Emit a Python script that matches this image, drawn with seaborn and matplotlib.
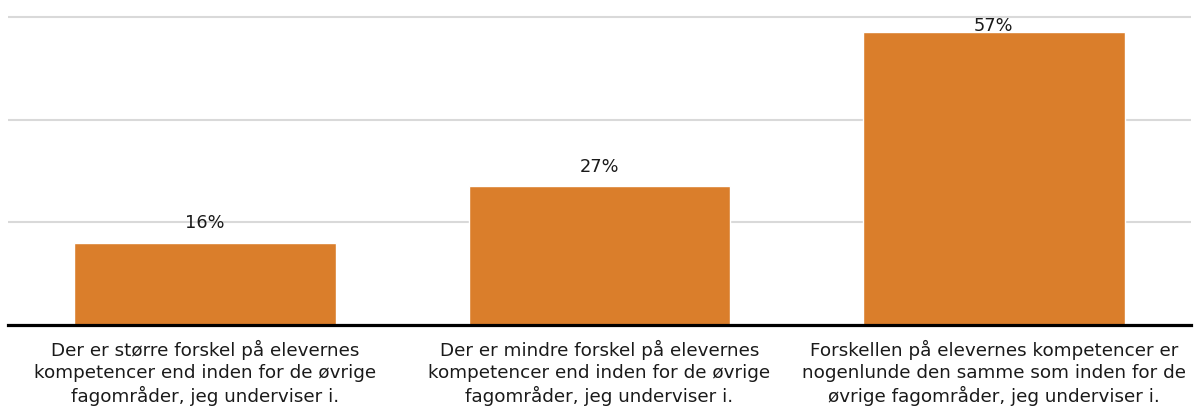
import matplotlib
matplotlib.use("Agg")
import matplotlib.pyplot as plt
import seaborn as sns

categories = [
    "Der er større forskel på elevernes\nkompetencer end inden for de øvrige\nfagområder, jeg underviser i.",
    "Der er mindre forskel på elevernes\nkompetencer end inden for de øvrige\nfagområder, jeg underviser i.",
    "Forskellen på elevernes kompetencer er\nnogenlunde den samme som inden for de\nøvrige fagområder, jeg underviser i.",
]
values = [16, 27, 57]
y_ticks = [0, 20, 40, 60]

sns.set_theme(style="white")
plt.rcParams["font.family"] = ["DejaVu Sans"]

W, H = 1195, 407
DPI = 100
fig = plt.figure(figsize=(W / DPI, H / DPI), dpi=DPI)
ax = fig.add_axes([8 / W, 82 / H, 1183 / W, 325 / H])

sns.barplot(x=categories, y=values, color="#DA7E2B", saturation=1,
            width=0.663, ax=ax, order=categories)

ax.set_xlim(-0.5, 2.5)
ax.set_ylim(0, 63.3)
ax.set_yticks(y_ticks)
ax.yaxis.grid(True, color="#d9d9d9", linewidth=1.5)
ax.set_axisbelow(True)
ax.tick_params(axis="y", left=False, labelleft=False)
ax.tick_params(axis="x", length=0, pad=11)
for lbl in ax.get_xticklabels():
    lbl.set_fontsize(13.2)
    lbl.set_color("#1a1a1a")
    lbl.set_multialignment("center")
    lbl.set_linespacing(1.24)

for side in ["top", "right", "left"]:
    ax.spines[side].set_visible(False)
ax.spines["bottom"].set_color("black")
ax.spines["bottom"].set_linewidth(2.3)

ax.set_xlabel("")
ax.set_ylabel("")

pad_pt = 7.5
texts = []
for container in ax.containers:
    texts += ax.bar_label(container, labels=[f"{v}%" for v in values],
                          padding=pad_pt, fontsize=12.8, color="#1a1a1a")

# keep value labels inside the top gridline
fig.canvas.draw()
renderer = fig.canvas.get_renderer()
top_px = ax.transData.transform((0, max(y_ticks)))[1]
for t in texts:
    bb = t.get_window_extent(renderer)
    if bb.y1 > top_px:
        over_pt = (bb.y1 - top_px) * 72 / DPI
        t.xyann = (t.xyann[0], t.xyann[1] - over_pt)

fig.savefig("out.png", dpi=DPI)
